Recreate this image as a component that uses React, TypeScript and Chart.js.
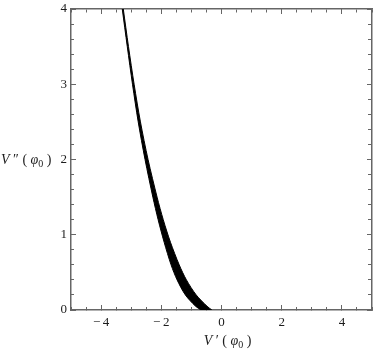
import { useEffect, useRef } from 'react';
import { Chart, registerables } from 'chart.js';

Chart.register(...registerables);

// Band (filled region): left and right edges at given V'' levels
const bandY = [4.0, 3.5, 3.0, 2.5, 2.0, 1.5, 1.2, 0.9, 0.6, 0.4, 0.2, 0.05, 0];
const bandLeftX = [-3.297, -3.13, -2.957, -2.767, -2.54, -2.28, -2.105, -1.905, -1.675, -1.475, -1.2, -0.86, -0.68];
const bandRightX = [-3.263, -3.09, -2.903, -2.693, -2.44, -2.14, -1.935, -1.695, -1.405, -1.165, -0.84, -0.48, -0.32];

// Axis ticks
const xRange = [-5, 5];
const yRange = [0, 4];
const xLabelTicks = [-4, -2, 0, 2, 4];
const yLabelTicks = [0, 1, 2, 3, 4];
const xMinorStep = 0.5;
const yMinorStep = 0.2;

const INK = '#000000';
const TEXT = '#1c1c1c';
const FRAME = '#666666';
const SERIF = '"Liberation Serif", "Times New Roman", "DejaVu Serif", serif';

function steps(a: number, b: number, s: number): number[] {
  const out: number[] = [];
  const n = Math.round((b - a) / s);
  for (let i = 0; i <= n; i++) out.push(Math.round((a + i * s) * 1000) / 1000);
  return out;
}

const xMinorTicks = steps(xRange[0], xRange[1], xMinorStep);
const yMinorTicks = steps(yRange[0], yRange[1], yMinorStep);

function fmt(v: number): string {
  return v < 0 ? '\u2212\u2009' + String(-v) : String(v);
}

function zeroPad(s: any) {
  s.paddingLeft = 0;
  s.paddingRight = 0;
  s.paddingTop = 0;
  s.paddingBottom = 0;
}

function tickOnlyAxis(axis: 'x' | 'y', position: any, ticks: number[], len: number, border: boolean) {
  const r = axis === 'x' ? xRange : yRange;
  return {
    type: 'linear',
    axis,
    position,
    min: r[0],
    max: r[1],
    afterBuildTicks: (s: any) => {
      s.ticks = ticks.map((v) => ({ value: v }));
    },
    afterFit: (s: any) => {
      zeroPad(s);
      if (axis === 'x') s.height = 0;
      else s.width = 0;
    },
    ticks: { display: false },
    grid: { drawOnChartArea: false, drawTicks: true, tickLength: len, color: FRAME, tickColor: FRAME, lineWidth: 1 },
    border: { display: border, color: FRAME, width: 1.5 },
  };
}

type Part = { t: string; italic?: boolean; sub?: boolean };

function drawRich(ctx: CanvasRenderingContext2D, parts: Part[], x: number, y: number, align: 'left' | 'center') {
  const size = 14;
  const fontFor = (p: Part) => `${p.italic ? 'italic ' : ''}${p.sub ? 10 : size}px ${SERIF}`;
  let total = 0;
  for (const p of parts) {
    ctx.font = fontFor(p);
    total += ctx.measureText(p.t).width;
  }
  let cx = align === 'center' ? x - total / 2 : x;
  ctx.textAlign = 'left';
  ctx.textBaseline = 'alphabetic';
  for (const p of parts) {
    ctx.font = fontFor(p);
    ctx.fillText(p.t, cx, p.sub ? y + 3 : y);
    cx += ctx.measureText(p.t).width;
  }
}

const xTitle: Part[] = [
  { t: 'V', italic: true },
  { t: ' \u2032 ( ' },
  { t: '\u03C6', italic: true },
  { t: '0', sub: true },
  { t: ' )' },
];
const yTitle: Part[] = [
  { t: 'V', italic: true },
  { t: ' \u2033 ( ' },
  { t: '\u03C6', italic: true },
  { t: '0', sub: true },
  { t: ' )' },
];

const titlesPlugin = {
  id: 'richTitles',
  afterDraw(chart: any) {
    const { ctx, chartArea, scales } = chart;
    ctx.save();
    ctx.fillStyle = TEXT;
    drawRich(ctx, xTitle, (chartArea.left + chartArea.right) / 2 + 6, chartArea.bottom + 35, 'center');
    drawRich(ctx, yTitle, 1, scales.y.getPixelForValue(2) + 4, 'left');
    ctx.restore();
  },
};

export default function App() {
  const ref = useRef<HTMLCanvasElement | null>(null);

  useEffect(() => {
    if (!ref.current) return;
    const chart = new Chart(ref.current, {
      type: 'line',
      data: {
        datasets: [
          {
            data: bandY.map((y, i) => ({ x: bandLeftX[i], y })),
            borderColor: INK,
            borderWidth: 1,
            pointRadius: 0,
            fill: false,
            tension: 0.3,
          },
          {
            data: bandY.map((y, i) => ({ x: bandRightX[i], y })),
            borderColor: INK,
            backgroundColor: INK,
            borderWidth: 1,
            pointRadius: 0,
            fill: '-1',
            tension: 0.3,
          },
        ],
      } as any,
      options: {
        indexAxis: 'y',
        animation: false,
        responsive: false,
        maintainAspectRatio: false,
        devicePixelRatio: 1,
        layout: { padding: { left: 0, right: 2, top: 9, bottom: 0 } },
        plugins: {
          legend: { display: false },
          tooltip: { enabled: false },
        },
        scales: {
          x: {
            type: 'linear',
            position: 'bottom',
            min: xRange[0],
            max: xRange[1],
            afterBuildTicks: (s: any) => {
              s.ticks = xMinorTicks.map((v) => ({ value: v }));
            },
            afterFit: (s: any) => {
              zeroPad(s);
              s.height = 44;
            },
            ticks: {
              autoSkip: false,
              maxRotation: 0,
              padding: 8,
              color: TEXT,
              font: { family: SERIF, size: 13 },
              callback: (v: any) => (xLabelTicks.includes(Number(v)) ? fmt(Number(v)) : ''),
            },
            grid: { drawOnChartArea: false, tickLength: -3, color: FRAME, tickColor: FRAME, lineWidth: 1 },
            border: { display: true, color: FRAME, width: 1.5 },
          },
          y: {
            type: 'linear',
            position: 'left',
            min: yRange[0],
            max: yRange[1],
            afterBuildTicks: (s: any) => {
              s.ticks = yMinorTicks.map((v) => ({ value: v }));
            },
            afterFit: (s: any) => {
              zeroPad(s);
              s.width = 71;
            },
            ticks: {
              autoSkip: false,
              padding: 7,
              color: TEXT,
              font: { family: SERIF, size: 13 },
              callback: (v: any) => (yLabelTicks.includes(Number(v)) ? fmt(Number(v)) : ''),
            },
            grid: { drawOnChartArea: false, tickLength: -3, color: FRAME, tickColor: FRAME, lineWidth: 1 },
            border: { display: true, color: FRAME, width: 1.5 },
          },
          xMajB: tickOnlyAxis('x', { y: yRange[0] }, xLabelTicks, -5, false),
          xMinT: tickOnlyAxis('x', { y: yRange[1] }, xMinorTicks, 3, true),
          xMajT: tickOnlyAxis('x', { y: yRange[1] }, xLabelTicks, 5, false),
          yMajL: tickOnlyAxis('y', { x: xRange[0] }, yLabelTicks, -5, false),
          yMinR: tickOnlyAxis('y', { x: xRange[1] }, yMinorTicks, 3, true),
          yMajR: tickOnlyAxis('y', { x: xRange[1] }, yLabelTicks, 5, false),
        } as any,
      },
      plugins: [titlesPlugin],
    });
    return () => chart.destroy();
  }, []);

  return (
    <div style={{ position: 'absolute', left: 0, top: 0, width: 374, height: 354, background: '#fff' }}>
      <canvas ref={ref} width={374} height={354} style={{ display: 'block', width: 374, height: 354 }} />
    </div>
  );
}
